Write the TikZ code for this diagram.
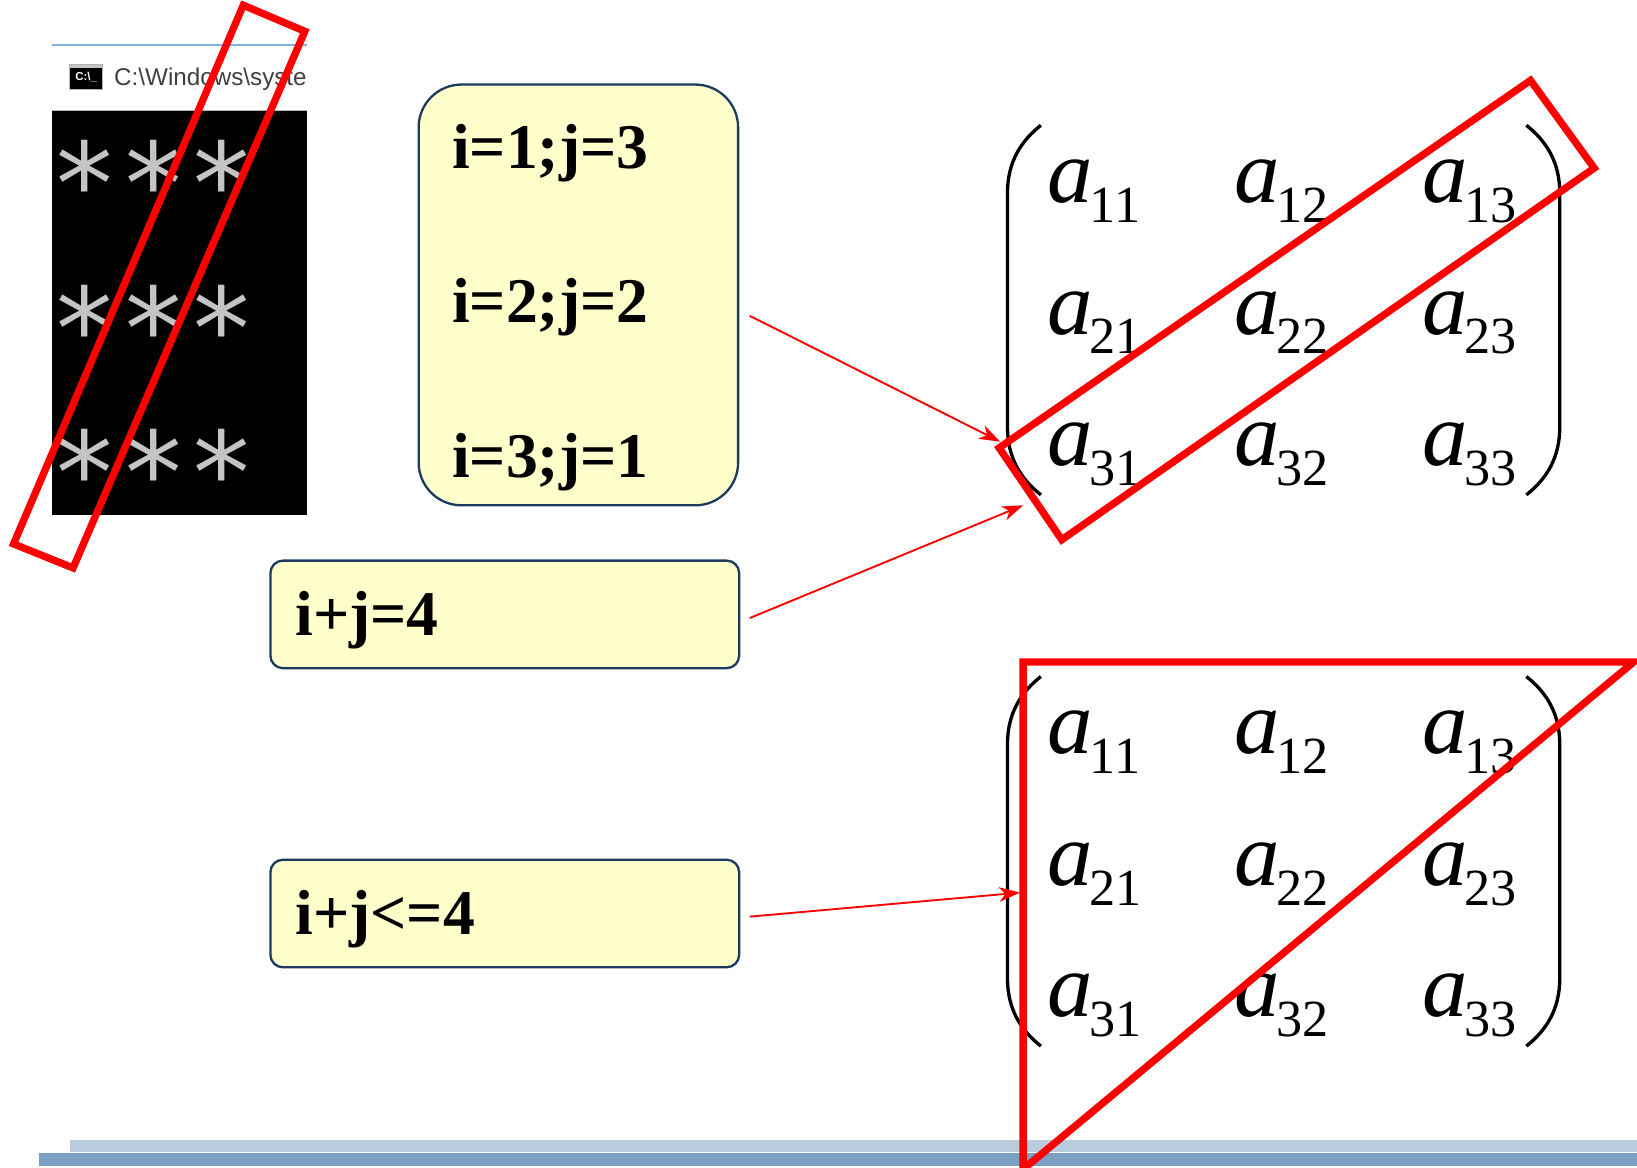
\documentclass[tikz,border=0pt]{standalone}
\usepackage{fontspec}
\setmainfont{Liberation Serif}
\newfontfamily\consolefont{DejaVu Sans Mono}
\newfontfamily\titlefont{Liberation Sans}
\usetikzlibrary{arrows.meta}
\definecolor{boxfill}{HTML}{FFFFCC}
\definecolor{boxline}{HTML}{1B3A5E}
\definecolor{barlight}{HTML}{B9CCDF}
\definecolor{bardark}{HTML}{7BA0C4}
\definecolor{winblue}{HTML}{7FB0DE}
\definecolor{stargray}{HTML}{C4C4C4}
\definecolor{pred}{HTML}{FF0000}
\newcommand\mentry[1]{{\fontsize{43.5}{43.5}\selectfont\itshape a}\kern-1.5pt\raisebox{-9.5pt}{\fontsize{25}{25}\selectfont #1}}
\begin{document}
\begin{tikzpicture}[x=0.5pt,y=-0.5pt,
  box/.style={draw=boxline, fill=boxfill, line width=1.1pt, rounded corners=6pt,
    inner ysep=0pt, inner xsep=12pt, align=left,
    font=\fontsize{30.5}{36}\selectfont\bfseries},
  conn/.style={draw=pred, line width=0.9pt, -{Stealth[length=10pt,width=7pt,inset=3pt]}},
  redline/.style={draw=pred, line width=3.5pt, line join=miter},
  paren/.style={draw=black, line width=1.6pt},
  ent/.style={anchor=base west, inner sep=0pt},
  starrow/.style={anchor=base west, inner sep=0pt, text=stargray,
    font=\consolefont\fontsize{54.4}{60}\selectfont}]
\useasboundingbox (0,0) rectangle (1568,1118);

% footer bars
\fill[barlight] (67,1092) rectangle (1568,1103.5);
\fill[bardark] (37,1104.5) rectangle (1568,1116.5);

% console screenshot
\fill[black] (50,106) rectangle (294,493);
\draw[winblue, line width=1pt] (50,43) -- (294,43);
\draw[gray!55, line width=0.6pt] (50,105.5) -- (294,105.5);
\node[fill=black, draw=gray!60, line width=0.5pt, minimum width=15.5pt, minimum height=12pt,
  inner sep=0pt, text=white, font=\titlefont\bfseries\fontsize{5.5}{6}\selectfont] (icon) at (82.5,74) {C:\textbackslash\_};
\fill[gray!45] (67.5,62.5) rectangle (97.5,65.5);
\begin{scope}
\clip (50,40) rectangle (294,105);
\node[anchor=base west, inner sep=0pt, text=black!75, font=\titlefont\fontsize{11.6}{14}\selectfont] (title) at (109,82) {C:\textbackslash Windows\textbackslash syste};
\end{scope}
\node[starrow] (row1) at (48.3,215) {***};
\node[starrow] (row2) at (48.3,354) {***};
\node[starrow] (row3) at (48.3,492) {***};

% boxes
\node[box, rounded corners=20.5pt, inner xsep=16pt, text width=121pt, minimum height=201.5pt,
  text height=26.5pt, text depth=148pt, font=\fontsize{30.5}{74}\selectfont\bfseries] (box1) at (554,282.5)
  {i=1;j=3\\i=2;j=2\\i=3;j=1};
\node[box, text width=200.5pt, minimum height=51.5pt, text height=20.5pt, text depth=0pt] (box2) at (483.5,588.5) {i+j=4};
\node[box, text width=200.5pt, minimum height=51.5pt, text height=20.5pt, text depth=0pt] (box3) at (483.5,875) {i+j<=4};

% matrices
\foreach \r/\yb in {1/194,2/320,3/446}{
  \foreach \c/\xb in {1/1003,2/1182,3/1362}{
    \node[ent] (u\r\c) at (\xb,\yb) {\mentry{\r\c}};
  }
}
\foreach \r/\yb in {1/722,2/848,3/974}{
  \foreach \c/\xb in {1/1003,2/1182,3/1362}{
    \node[ent] (l\r\c) at (\xb,\yb) {\mentry{\r\c}};
  }
}
\draw[paren] (997,120) .. controls (978,135) and (965,155) .. (965,185) -- (965,409) .. controls (965,439) and (978,459) .. (997,474);
\draw[paren] (1462,120) .. controls (1481,135) and (1494,155) .. (1494,185) -- (1494,409) .. controls (1494,439) and (1481,459) .. (1462,474);
\draw[paren] (997,648) .. controls (978,663) and (965,683) .. (965,713) -- (965,937) .. controls (965,967) and (978,987) .. (997,1002);
\draw[paren] (1462,648) .. controls (1481,663) and (1494,683) .. (1494,713) -- (1494,937) .. controls (1494,967) and (1481,987) .. (1462,1002);

% connectors
\coordinate (t1) at (958,423);
\coordinate (t2) at (980,484);
\coordinate (t3) at (977,855);
\draw[conn] ([xshift=5pt,yshift=-10pt]box1.east) -- (t1);
\draw[conn] ([xshift=4.5pt,yshift=-1.75pt]box2.east) -- (t2);
\draw[conn] ([xshift=4.5pt,yshift=-1.5pt]box3.east) -- (t3);

% red highlights
\draw[redline] (233,5) -- (292,30) -- (70,544) -- (13,521) -- cycle;
\draw[redline] (957,429) -- (1466,77) -- (1527,161) -- (1017,517) -- cycle;
\draw[redline] (980,634) -- (1565,634) -- (980,1120) -- cycle;
\end{tikzpicture}
\end{document}
